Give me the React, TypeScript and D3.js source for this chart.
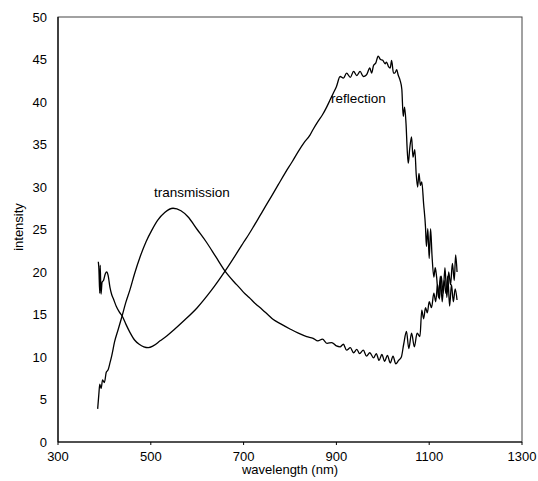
import React from "react";
import * as d3 from "d3";

const xTicks = [300, 500, 700, 900, 1100, 1300];
const yTicks = [0, 5, 10, 15, 20, 25, 30, 35, 40, 45, 50];

const transWl = [385.5, 388, 390, 393, 396, 400, 404, 408, 412, 416, 422, 430, 438, 446, 455, 465, 477, 490, 502, 515, 530, 548, 565, 580, 600, 620, 640, 660, 680, 692, 700, 712, 725, 740, 752, 764, 780, 800, 818, 836, 850, 860, 870, 880, 890, 900, 908, 915, 922, 930, 937, 944, 950, 958, 965, 972, 980, 986, 992, 998, 1004, 1010, 1016, 1022, 1028, 1034, 1040, 1045, 1051, 1056, 1062, 1068, 1074, 1080, 1084, 1088, 1092, 1096, 1100, 1105, 1110, 1114, 1118, 1122, 1126, 1130, 1134, 1138, 1142, 1146, 1150, 1154, 1157, 1160];
const transVal = [3.9, 5.6, 6.8, 6.3, 7.3, 7.0, 8.2, 8.5, 9.3, 10.2, 11.8, 13.3, 14.8, 16.4, 17.9, 19.8, 21.8, 23.6, 24.9, 26.1, 27.0, 27.5, 27.2, 26.5, 25.0, 23.5, 21.8, 20.1, 18.8, 18.1, 17.6, 17.0, 16.3, 15.6, 15.0, 14.4, 13.9, 13.3, 12.8, 12.4, 12.2, 11.9, 12.1, 11.6, 11.7, 11.3, 11.2, 11.5, 10.8, 11.1, 10.5, 10.9, 10.4, 10.8, 10.1, 10.5, 9.9, 10.4, 9.6, 10.3, 9.5, 10.2, 9.3, 10.1, 9.2, 9.6, 10.0, 11.5, 13.0, 11.0, 12.8, 11.2, 12.8, 12.4, 15.5, 14.5, 15.8, 15.2, 16.5, 15.8, 17.5, 16.5, 18.5, 16.8, 19.5, 17.5, 20.5, 17.0, 20.0, 18.5, 21.0, 19.0, 22.0, 20.0];

const reflWl = [386.9, 388, 390, 391, 392.7, 395, 398, 402, 405, 408, 412, 416, 419, 426, 432, 438.6, 446, 455, 465, 475, 485, 494.6, 505, 520, 535, 550, 570, 600, 630, 660, 692, 700, 712, 722, 735, 748, 760, 775, 790, 805, 818, 830, 843, 850, 860, 870, 879, 886, 893, 900, 908, 915, 922, 930, 937, 944, 951, 958, 965, 972, 976, 980, 985, 990, 995, 1000, 1005, 1008, 1012, 1016, 1019, 1023, 1026, 1030, 1033, 1037, 1041, 1044, 1047, 1050, 1053, 1055, 1058, 1062, 1065, 1069, 1072, 1075, 1078, 1081, 1084, 1088, 1092, 1094, 1097, 1100, 1103, 1106, 1110, 1113, 1116, 1120, 1124, 1128, 1132, 1136, 1140, 1144, 1148, 1152, 1156, 1160];
const reflVal = [21.2, 20.5, 17.5, 20.8, 17.4, 18.8, 19.0, 19.8, 20.0, 19.6, 18.2, 17.3, 16.9, 15.9, 15.3, 14.8, 13.9, 12.9, 12.0, 11.5, 11.2, 11.1, 11.3, 11.9, 12.5, 13.2, 14.2, 15.8, 17.8, 20.1, 22.8, 23.5, 24.5, 25.4, 26.6, 27.8, 28.9, 30.3, 31.7, 33.0, 34.2, 35.2, 36.1, 36.8, 37.7, 38.5, 39.4, 40.2, 41.0, 41.8, 43.0, 42.8, 43.4, 42.9, 43.6, 43.1, 43.6, 43.0, 43.2, 44.0, 43.4, 44.3, 44.6, 45.4, 45.0, 44.9, 44.5, 44.7, 44.2, 44.0, 44.9, 43.4, 43.4, 43.8, 43.2, 42.6, 41.5, 38.3, 39.4, 37.5, 34.0, 32.8, 34.5, 35.9, 33.5, 34.4, 31.5, 30.0, 31.6, 30.2, 30.6, 28.0, 25.3, 23.0, 25.1, 21.6, 25.1, 22.0, 19.4, 20.5, 19.4, 17.0, 19.5, 16.5, 19.0, 17.5, 19.5, 16.0, 18.5, 16.5, 18.0, 16.7];

const W = 538, H = 481;
const L = 58, R = 522, T = 17, B = 442;
const font = "'Liberation Sans', Arial, sans-serif";

export default function App() {
  const x = d3.scaleLinear().domain([300, 1300]).range([L, R]);
  const y = d3.scaleLinear().domain([0, 50]).range([B, T]);
  const mk = (wl: number[], v: number[]) =>
    d3
      .line<number>()
      .x((d) => x(d))
      .y((_, i) => y(v[i]))
      .curve(d3.curveMonotoneX)(wl) || "";
  return (
    <svg width={W} height={H} style={{ position: "absolute", left: 0, top: 0, background: "#fff" }}>
      <rect x={L} y={T} width={R - L} height={B - T} fill="none" stroke="#444" strokeWidth={1} />
      <line x1={L} x2={L} y1={T} y2={B} stroke="#000" strokeWidth={1.2} />
      <line x1={L} x2={R} y1={B} y2={B} stroke="#000" strokeWidth={1.2} />
      {xTicks.map((t) => (
        <g key={"x" + t}>
          <line x1={x(t)} x2={x(t)} y1={B} y2={B + 3} stroke="#000" />
          <text x={x(t)} y={461} textAnchor="middle" fontFamily={font} fontSize={13} fill="#000">{t}</text>
        </g>
      ))}
      {yTicks.map((t) => (
        <text key={"y" + t} x={47} y={y(t) + 4.5} textAnchor="end" fontFamily={font} fontSize={13} fill="#000">{t}</text>
      ))}
      <text x={(L + R) / 2} y={474} textAnchor="middle" fontFamily={font} fontSize={13}>wavelength (nm)</text>
      <text transform={`translate(23,227) rotate(-90)`} textAnchor="middle" fontFamily={font} fontSize={13}>intensity</text>
      <path d={mk(transWl, transVal)} fill="none" stroke="#000" strokeWidth={1.3} strokeLinejoin="round" />
      <path d={mk(reflWl, reflVal)} fill="none" stroke="#000" strokeWidth={1.3} strokeLinejoin="round" />
      <text x={192} y={197} textAnchor="middle" fontFamily={font} fontSize={13.5}>transmission</text>
      <text x={331} y={103} fontFamily={font} fontSize={13.5}>reflection</text>
    </svg>
  );
}
